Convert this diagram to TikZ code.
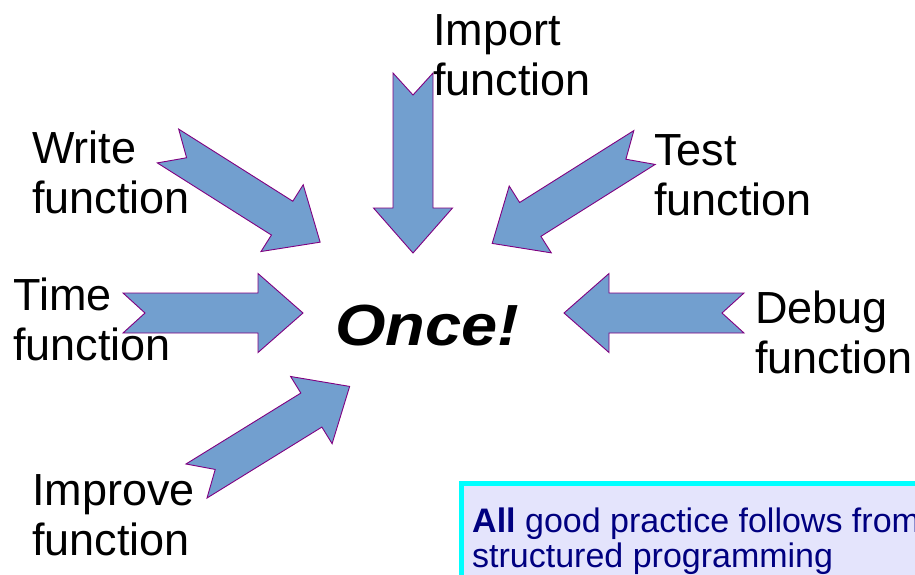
\documentclass[tikz,border=0pt]{standalone}
\usepackage{fontspec}
\setmainfont{Liberation Sans}
\definecolor{arrowfill}{HTML}{729FCF}
\definecolor{arrowedge}{HTML}{800080}
\definecolor{notefill}{HTML}{E4E4FC}
\definecolor{noteedge}{HTML}{00FFFF}
\definecolor{notetext}{HTML}{000080}
\tikzset{
  arrowbody/.style={fill=arrowfill, draw=arrowedge, line width=0.9pt, line join=miter},
  % anchor sits on the baseline of the second (last) line
  label/.style={anchor=base west, inner sep=0pt, align=left,
    font=\fontsize{45}{50}\selectfont},
  pics/blockarrow/.style={code={
    \draw[arrowbody] (0,20) -- (135,20) -- (135,39.5) -- (180,0)
      -- (135,-39.5) -- (135,-20) -- (0,-20) -- (22,0) -- cycle;
  }}
}
\begin{document}
\begin{tikzpicture}[x=1pt, y=-1pt]
\useasboundingbox (0,0) rectangle (915,574);
\clip (0,0) rectangle (915,574);

% block arrows pointing at the centre
\pic[rotate=-90]    at (413,73)    {blockarrow};
\pic[rotate=-32.3]  at (168,146)   {blockarrow};
\pic[rotate=-147.8] at (644.5,147.5) {blockarrow};
\pic                at (123,313)   {blockarrow};
\pic[rotate=180]    at (744,313)   {blockarrow};
\pic[rotate=31.7]   at (196.5,481) {blockarrow};

% labels
\node[label] (import)  at (433,95)  {Import\\function};
\node[label] (write)   at (32,213)  {Write\\function};
\node[label] (test)    at (654,215) {Test\\function};
\node[label] (time)    at (13,360)  {Time\\function};
\node[label] (debug)   at (755,373) {Debug\\function};
\node[label] (improve) at (32,555)  {Improve\\function};

\node[anchor=base west, inner sep=0pt, font=\fontsize{58}{60}\selectfont\bfseries\itshape]
  (once) at (335,345) {\scalebox{1.12}[1]{Once!}};

% note box
\draw[fill=notefill, draw=noteedge, line width=5pt] (461.5,483.5) rectangle (940,600);
\node[anchor=base west, inner sep=0pt, align=left, text=notetext,
  font=\fontsize{34}{35}\selectfont] (note) at (472,567)
  {\textbf{All} good practice follows from\\structured programming};
\end{tikzpicture}
\end{document}
